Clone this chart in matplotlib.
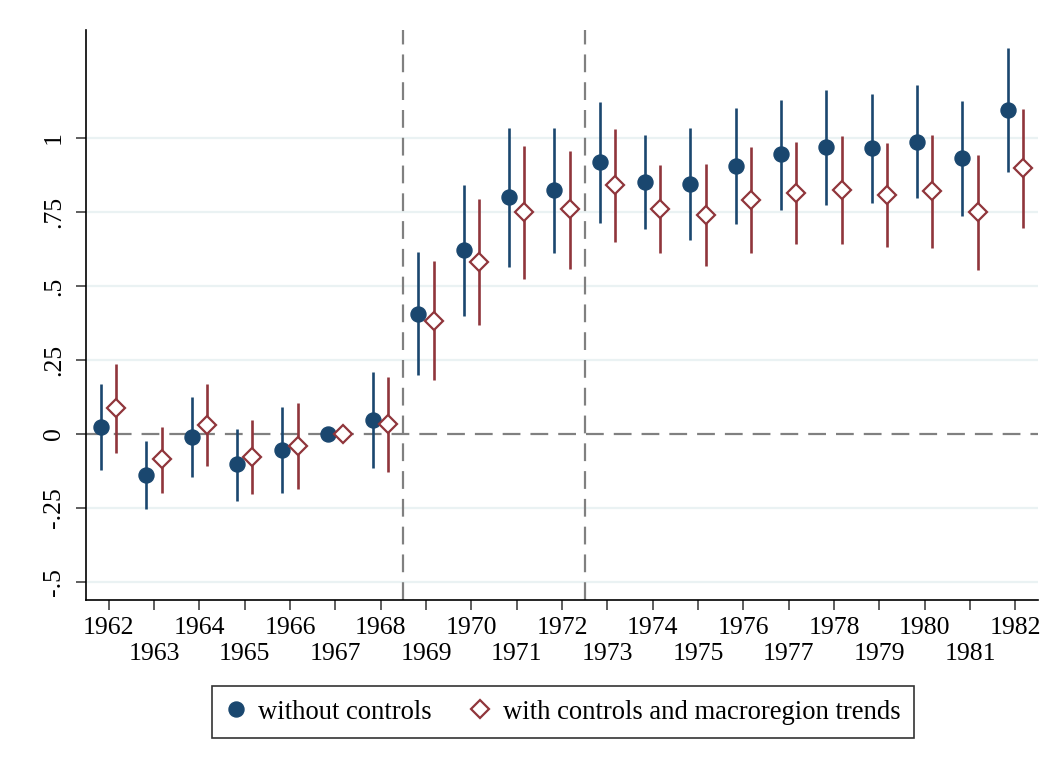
import matplotlib
matplotlib.use("Agg")
import matplotlib.pyplot as plt
from matplotlib.lines import Line2D
import numpy as np

plt.rcParams['font.family'] = ['Liberation Serif', 'DejaVu Serif']

years = list(range(1962, 1983))

# event-study coefficients, no controls (1967 is the omitted base year)
coef_plain = [0.023, -0.138, -0.009, -0.103, -0.054, 0.0, 0.046, 0.407, 0.621, 0.800, 0.825,
              0.919, 0.852, 0.845, 0.907, 0.945, 0.969, 0.965, 0.988, 0.932, 1.094]
lo_plain = [-0.122, -0.254, -0.144, -0.227, -0.198, 0.0, -0.116, 0.200, 0.400, 0.564, 0.612,
            0.713, 0.692, 0.656, 0.711, 0.758, 0.774, 0.781, 0.798, 0.736, 0.885]
hi_plain = [0.169, -0.023, 0.124, 0.017, 0.090, 0.0, 0.209, 0.616, 0.840, 1.035, 1.034,
            1.122, 1.010, 1.034, 1.102, 1.130, 1.162, 1.148, 1.179, 1.126, 1.303]

# with controls and macroregion trends
coef_ctrl = [0.088, -0.086, 0.030, -0.077, -0.041, 0.0, 0.034, 0.381, 0.582, 0.749, 0.759,
             0.840, 0.760, 0.741, 0.789, 0.813, 0.825, 0.809, 0.820, 0.749, 0.898]
lo_ctrl = [-0.063, -0.198, -0.108, -0.204, -0.187, 0.0, -0.128, 0.182, 0.367, 0.522, 0.557,
           0.648, 0.610, 0.568, 0.610, 0.642, 0.643, 0.633, 0.628, 0.555, 0.696]
hi_ctrl = [0.238, 0.024, 0.168, 0.048, 0.106, 0.0, 0.193, 0.584, 0.795, 0.973, 0.957,
           1.031, 0.910, 0.912, 0.968, 0.986, 1.006, 0.983, 1.009, 0.941, 1.098]

yticks = [-0.5, -0.25, 0, 0.25, 0.5, 0.75, 1]
ytick_labels = ["-.5", "-.25", "0", ".25", ".5", ".75", "1"]
period_breaks = [1968.5, 1972.5]

navy = "#1a476f"
maroon = "#90353b"
grey = "#808080"

fig = plt.figure(figsize=(10.46, 7.69), dpi=100)
ax = fig.add_axes([0.0822, 0.2198, 0.9102, 0.7412])

x = np.array(years, dtype=float)
xb = x - 0.17
xr = x + 0.17

# grid and reference lines
for yt in yticks:
    if yt != 0:
        ax.axhline(yt, color="#eaf2f3", lw=1.6, zorder=0)
dash = (0, (8, 4.5))
ax.axhline(0, color=grey, lw=1.6, ls=dash, zorder=1)
for xv in period_breaks:
    ax.axvline(xv, color=grey, lw=1.6, ls=dash, zorder=1)

# confidence intervals
ax.vlines(xb, lo_plain, hi_plain, color=navy, lw=1.9, zorder=2)
ax.vlines(xr, lo_ctrl, hi_ctrl, color=maroon, lw=1.9, zorder=2)

# point estimates
ax.plot(xb, coef_plain, "o", color=navy, ms=10.8, zorder=3)
ax.plot(xr, coef_ctrl, "D", mfc="white", mec=maroon, mew=1.6, ms=8.7, zorder=3)

ax.set_xlim(1961.5, 1982.5)
ax.set_ylim(-0.561, 1.365)

ax.set_yticks(yticks)
ax.set_yticklabels(ytick_labels, rotation=90, va="center")

# even years on the first row, odd years staggered below
even_years = [y for y in years if y % 2 == 0]
odd_years = [y for y in years if y % 2 == 1]
ax.set_xticks(even_years)
ax.set_xticklabels([str(y) for y in even_years])
ax.set_xticks(odd_years, minor=True)
ax.set_xticklabels([str(y) for y in odd_years], minor=True)

ax.tick_params(axis="both", which="both", labelsize=18.5, length=7, width=1.1, color="#333333")
ax.tick_params(axis="x", which="major", pad=5)
ax.tick_params(axis="x", which="minor", pad=24)
ax.tick_params(axis="y", pad=8)

for side in ["top", "right"]:
    ax.spines[side].set_visible(False)
for side in ["left", "bottom"]:
    ax.spines[side].set_linewidth(1.2)
    ax.spines[side].set_color("black")

handles = [
    Line2D([], [], marker="o", ls="none", color=navy, ms=10.8),
    Line2D([], [], marker="D", ls="none", mfc="white", mec=maroon, mew=1.6, ms=8.7),
]
leg = fig.legend(handles, ["without controls", "with controls and macroregion trends"],
                 loc="center", bbox_to_anchor=(0.538, 0.074), ncol=2, fontsize=19.2,
                 frameon=True, fancybox=False, handlelength=0.8, handletextpad=0.45,
                 columnspacing=1.4, borderpad=0.5, borderaxespad=0.3)
leg.get_frame().set_edgecolor("black")
leg.get_frame().set_linewidth(1.2)

fig.savefig("out.png", dpi=100)
